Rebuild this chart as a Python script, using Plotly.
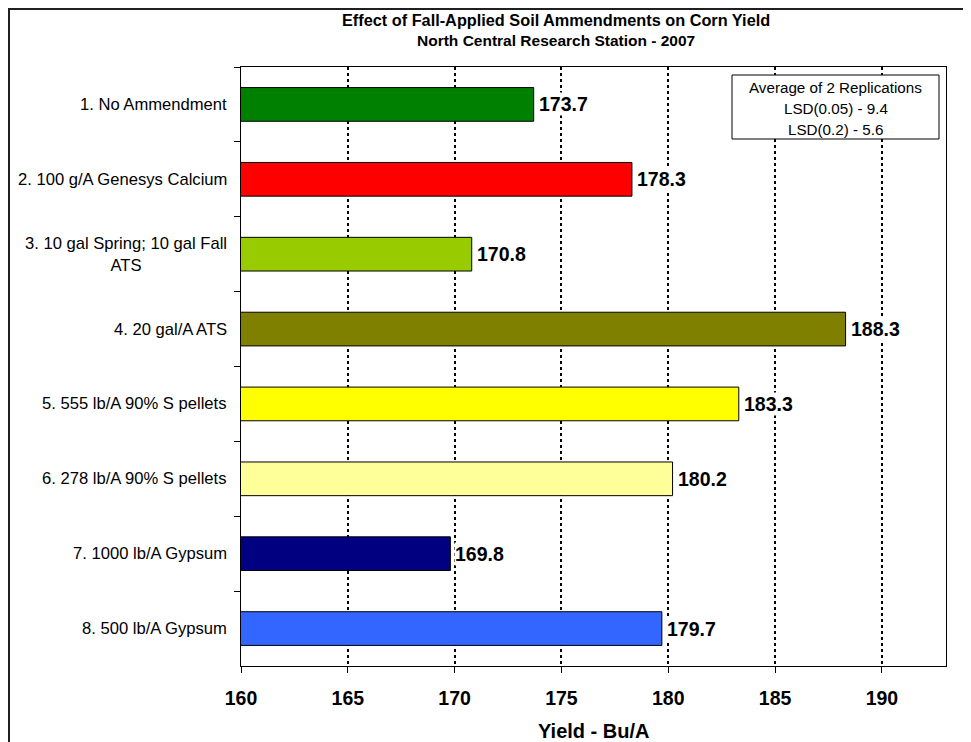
import plotly.graph_objects as go

# chart data
treatments = [
    "1. No Ammendment",
    "2. 100 g/A Genesys Calcium",
    "3. 10 gal Spring; 10 gal Fall<br>ATS",
    "4. 20 gal/A ATS",
    "5. 555 lb/A 90% S pellets",
    "6. 278 lb/A 90% S pellets",
    "7. 1000 lb/A Gypsum",
    "8. 500 lb/A Gypsum",
]
yields = [173.7, 178.3, 170.8, 188.3, 183.3, 180.2, 169.8, 179.7]
bar_colors = ["#008000", "#FF0000", "#99CC00", "#808000",
              "#FFFF00", "#FFFF99", "#000080", "#3366FF"]
x_ticks = [160, 165, 170, 175, 180, 185, 190]
note_lines = ["Average of 2 Replications", "LSD(0.05) - 9.4", "LSD(0.2) - 5.6"]

W, H = 971, 742
OFF = 8  # page body margin, the plot sits 8px right/down in the screenshot
L, R, T, B = 233, 33, 59, 84
PW, PH = W - L - R, H - T - B
FONT = "Liberation Sans, Arial, sans-serif"


# screen pixel -> paper coords
def px_x(px):
    return (px - OFF - L) / PW


def px_y(py):
    return (H - B - (py - OFF)) / PH


fig = go.Figure()
fig.add_trace(go.Bar(
    x=yields, y=treatments, orientation="h",
    marker=dict(color=bar_colors, line=dict(color="black", width=1)),
    width=0.45, showlegend=False,
))

# value labels with white background (they hide the gridlines like the original)
for t, v in zip(treatments, yields):
    fig.add_annotation(x=v, y=t, xref="x", yref="y", text=f"{v:.1f}",
                       xanchor="left", xshift=4, showarrow=False,
                       bgcolor="white", borderpad=0,
                       font=dict(family=FONT, size=19.5, color="black", weight="bold"))

# category labels (centered multi-line like the original)
for t in treatments:
    fig.add_annotation(x=px_x(229), y=t, xref="paper", yref="y", text=t,
                       xanchor="right", align="center", showarrow=False,
                       font=dict(family=FONT, size=16.6, color="black"))

# titles
fig.add_annotation(x=px_x(556), y=px_y(20), xref="paper", yref="paper",
                   text="Effect of Fall-Applied Soil Ammendments on Corn Yield",
                   showarrow=False, xanchor="center", yanchor="middle",
                   font=dict(family=FONT, size=16.3, color="black", weight="bold"))
fig.add_annotation(x=px_x(556), y=px_y(41), xref="paper", yref="paper",
                   text="North Central Research Station - 2007",
                   showarrow=False, xanchor="center", yanchor="middle",
                   font=dict(family=FONT, size=15.5, color="black", weight="bold"))
fig.add_annotation(x=0.5, y=px_y(731), xref="paper", yref="paper",
                   text="Yield - Bu/A", showarrow=False, xanchor="center", yanchor="middle",
                   font=dict(family=FONT, size=20, color="black", weight="bold"))

# note box
fig.add_shape(type="rect", xref="paper", yref="paper",
              x0=px_x(732), x1=px_x(939), y0=px_y(139), y1=px_y(75),
              line=dict(color="black", width=1), fillcolor="white")
for i, line in enumerate(note_lines):
    fig.add_annotation(x=px_x(835.5), y=px_y(88 + 20.5 * i), xref="paper", yref="paper",
                       text=line, showarrow=False, xanchor="center", yanchor="middle",
                       font=dict(family=FONT, size=15.2, color="black"))

# outer frame
fig.add_shape(type="rect", xref="paper", yref="paper",
              x0=px_x(9), x1=px_x(969), y0=px_y(760), y1=px_y(9),
              line=dict(color="#202020", width=2), layer="below")

fig.update_xaxes(
    range=[160, 193], tickvals=x_ticks, ticks="outside", ticklen=6, tickcolor="black",
    showline=True, linecolor="black", linewidth=1, mirror=True,
    showgrid=True, gridcolor="black", gridwidth=2, griddash="dot",
    tickfont=dict(family=FONT, size=19.5, color="black", weight="bold"),
    ticklabelstandoff=9, zeroline=False,
)
fig.update_yaxes(
    autorange="reversed", showticklabels=False, ticks="outside", ticklen=6,
    tickson="boundaries", tickcolor="black",
    showline=True, linecolor="black", linewidth=1, mirror=True, showgrid=False,
)
fig.update_layout(
    width=W, height=H, margin=dict(l=L, r=R, t=T, b=B),
    paper_bgcolor="white", plot_bgcolor="white", bargap=0.55,
)

fig.write_html("out.html")
